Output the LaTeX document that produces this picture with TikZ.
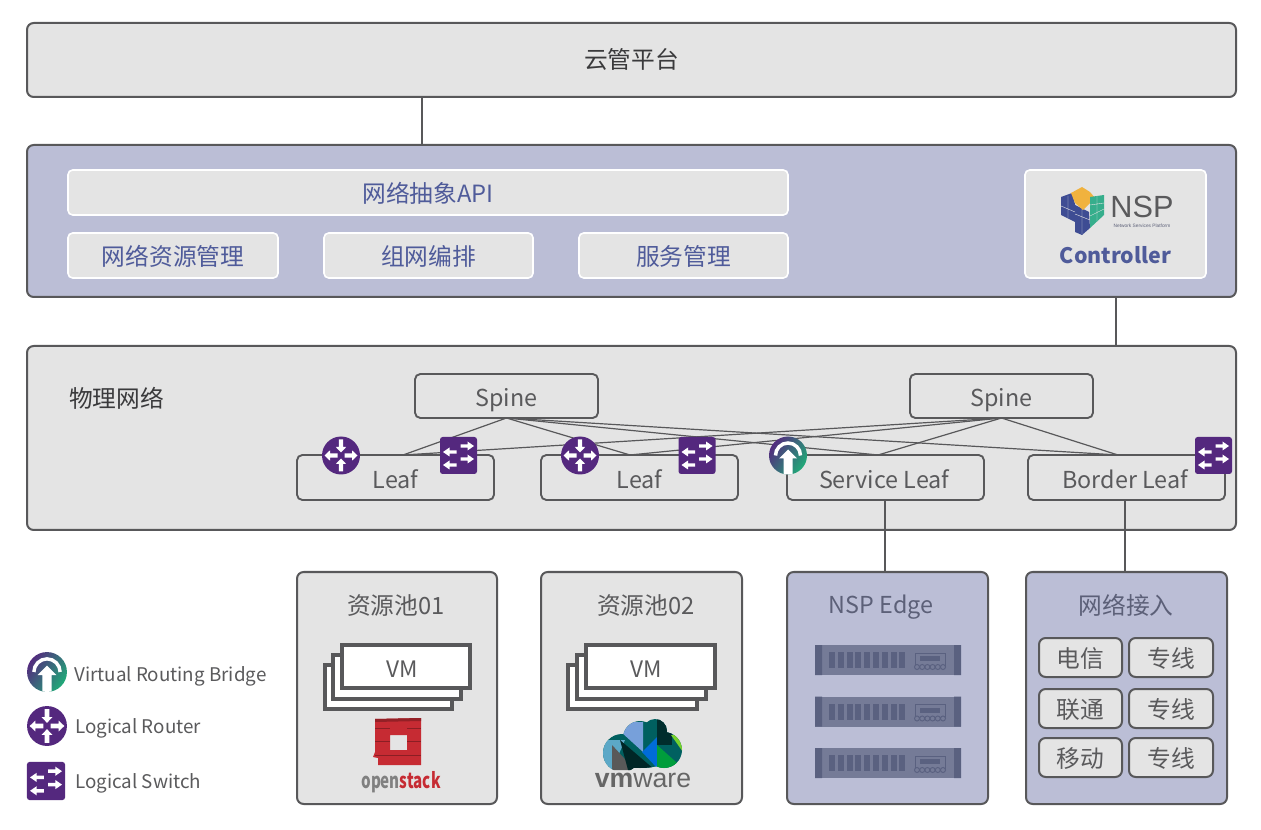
\documentclass[tikz,border=0pt]{standalone}
\usepackage{fontspec}
\setmainfont{Noto Sans CJK SC}
\newfontfamily\logofont{Liberation Sans}
\usetikzlibrary{calc}
\definecolor{panelgrey}{HTML}{E4E4E4}
\definecolor{panelblue}{HTML}{BBBED6}
\definecolor{edgegrey}{HTML}{58585A}
\definecolor{txtdark}{HTML}{3A3A3C}
\definecolor{txtgrey}{HTML}{5A5A5C}
\definecolor{txtblue}{HTML}{4F5B9A}
\definecolor{txtslate}{HTML}{5C6078}
\definecolor{iconpurple}{HTML}{54287E}
\definecolor{icongreen}{HTML}{1FAE78}
\definecolor{srvbody}{HTML}{757B97}
\definecolor{srvdark}{HTML}{5A6180}
\definecolor{brickred}{HTML}{C62B33}
\definecolor{cubeblue}{HTML}{3E4C93}
\definecolor{cubegold}{HTML}{F0B23E}
\definecolor{cubegreen}{HTML}{36AE8C}
\newcommand{\fs}[1]{\fontsize{#1}{#1}\selectfont}
% name x1 y1 x2 y2 style text
\newcommand{\pbox}[7]{\node[#6,inner sep=0pt,outer sep=0pt,minimum width={(#4-#2)*0.75pt},minimum height={(#5-#3)*0.75pt}] (#1) at ({(#2+#4)/2},{(#3+#5)/2}) {#7};}
\tikzset{
  panel/.style={draw=edgegrey,line width=1.5pt,rounded corners=5pt,fill=panelgrey},
  bluepanel/.style={draw=edgegrey,line width=1.5pt,rounded corners=5pt,fill=panelblue},
  whitebox/.style={draw=white,line width=1.2pt,rounded corners=3.5pt,fill=panelgrey,text=txtblue,font=\fs{17.8},text height=17pt,text depth=2pt},
  netbox/.style={draw=edgegrey,line width=1.4pt,rounded corners=4pt,fill=panelgrey,text=txtgrey,font=\fs{17.5},text height=19.8pt,text depth=4pt},
  chipbox/.style={draw=edgegrey,line width=1.5pt,rounded corners=5pt,fill=panelgrey,text=txtgrey,font=\fs{17.8},text height=17pt,text depth=2pt},
  vmbox/.style={draw=edgegrey,line width=2.4pt,fill=white},
  conn/.style={draw=edgegrey,line width=1.2pt},
  link/.style={draw=edgegrey,line width=0.9pt},
  lbl/.style={inner sep=0pt},
  router/.pic={
    \fill[iconpurple] (0,0) circle (19);
    \foreach \r in {0,180}{\fill[white,rotate=\r] (-2.2,-16)--(2.2,-16)--(2.2,-8.5)--(5.2,-8.5)--(0,-3)--(-5.2,-8.5)--(-2.2,-8.5)--cycle;}
    \foreach \r in {90,270}{\fill[white,rotate=\r] (-2.2,-3.5)--(2.2,-3.5)--(2.2,-11)--(5.2,-11)--(0,-16.5)--(-5.2,-11)--(-2.2,-11)--cycle;}
  },
  lswitch/.pic={
    \fill[iconpurple,rounded corners=2pt] (-18.5,-18.5) rectangle (18.5,18.5);
    \foreach \y in {-9.5,3.5}{\fill[white] (2,\y-1.7)--(9,\y-1.7)--(9,\y-4.5)--(15.5,\y)--(9,\y+4.5)--(9,\y+1.7)--(2,\y+1.7)--cycle;}
    \foreach \y in {-3.5,9.5}{\fill[white] (-2,\y-1.7)--(-9,\y-1.7)--(-9,\y-4.5)--(-15.5,\y)--(-9,\y+4.5)--(-9,\y+1.7)--(-2,\y+1.7)--cycle;}
  },
  vrb/.pic={
    \begin{scope}
      \clip (0,0) circle (19);
      \shade[left color=iconpurple,right color=icongreen,shading angle=55] (-20,-20) rectangle (20,20);
      \fill[white] (-4.5,20)--(4.5,20)--(4.5,3)--(9,3)--(0,-6)--(-9,3)--(-4.5,3)--cycle;
    \end{scope}
    \draw[white,line width=2.6pt] (-12.5,0) arc[start angle=180,end angle=360,radius=12.5];
  },
  server/.pic={
    \fill[srvbody] (0,0) rectangle (146,30);
    \fill[srvdark] (0,0) rectangle (7,30) (139,0) rectangle (146,30);
    \foreach \i in {0,...,8}{\fill[srvdark] ({14+\i*8.8},7) rectangle ({20+\i*8.8},23);}
    \draw[srvdark,line width=0.7pt] (100,8) rectangle (130,21);
    \fill[srvdark] (105,11) rectangle (125,16);
    \foreach \i in {0,...,5}{\draw[srvdark,line width=0.7pt,fill=srvbody] ({102+\i*5.2},22) circle (2.5);}
  },
}
\begin{document}
\begin{tikzpicture}[x=0.75pt,y=-0.75pt]
\useasboundingbox (0,0) rectangle (1261,830);
\fill[white] (0,0) rectangle (1261,830);
% vertical connector x positions
\coordinate (xa) at (422,0);
\coordinate (xb) at (1116,0);
\coordinate (xc) at (885,0);
\coordinate (xd) at (1125,0);
% main panels
\pbox{cloud}{27}{23}{1236}{97}{panel,text=txtdark,font=\fs{17.8},text depth=3pt}{云管平台}
\pbox{ctl}{27}{145}{1236}{297}{bluepanel}{}
\pbox{phys}{27}{346}{1236}{530}{panel}{}
\draw[conn] (xa |- cloud.south) -- (xa |- ctl.north);
\draw[conn] (xb |- ctl.south) -- (xb |- phys.north);
% controller content
\pbox{api}{68}{170}{788}{215}{whitebox}{网络抽象API}
\pbox{res}{68}{233}{278}{278}{whitebox}{网络资源管理}
\pbox{org}{324}{233}{533}{278}{whitebox}{组网编排}
\pbox{svc}{579}{233}{788}{278}{whitebox}{服务管理}
\pbox{nspbox}{1025}{170}{1206}{278}{whitebox}{}
% NSP logo
\fill[cubeblue] (1061,197)--(1072,193)--(1075,204)--(1075,222)--(1061,215)--cycle;
\fill[cubeblue] (1075,205)--(1089,212)--(1090,228)--(1082,235)--(1075,232)--cycle;
\fill[cubegold] (1071,193)--(1082,187)--(1090,192)--(1095,198)--(1083,210)--(1075,203)--cycle;
\fill[cubegreen] (1090,197)--(1104,195)--(1104,215)--(1090,228)--cycle;
\draw[panelgrey,line width=0.3pt] (1061,206)--(1075,212) (1075,214)--(1090,220) (1090,205)--(1104,203) (1090,216)--(1104,209) (1097,196)--(1097,221) (1082,209)--(1082,234) (1068,196)--(1068,218);
\node[lbl,text=txtgrey,font=\logofont\fs{23}] (nsplogo) at (1142,207) {NSP};
\node[lbl,text=txtslate,font=\logofont\fs{3.6}] (nspsub) at (1142,226) {Network Services Platform};
\node[lbl,text=txtblue,font=\fs{16}\bfseries] (ctltxt) at (1115.5,255) {Controller};
% physical network
\node[lbl,text=txtdark,font=\fs{17.8}] (phystxt) at (116.5,398) {物理网络};
\pbox{spine1}{415}{374}{598}{418}{netbox}{Spine}
\pbox{spine2}{910}{374}{1093}{418}{netbox}{Spine}
\pbox{leaf1}{297}{455}{494}{500}{netbox}{Leaf}
\pbox{leaf2}{541}{455}{738}{500}{netbox}{Leaf}
\pbox{leaf3}{787}{455}{984}{500}{netbox}{\hspace*{-2pt}Service Leaf}
\pbox{leaf4}{1028}{455}{1225}{500}{netbox}{\hspace*{-2pt}Border Leaf}
\coordinate (t1) at (403,455);
\coordinate (t2) at (630,455);
\coordinate (t3) at (878,455);
\coordinate (t4) at (1118,455);
\foreach \s in {spine1,spine2}{\foreach \t in {t1,t2,t3,t4}{\draw[link] (\s.south) -- (\t);}}
\pic (r1) at (341,455.5) {router};
\pic (s1) at (458.5,455.5) {lswitch};
\pic (r2) at (580,455.5) {router};
\pic (s2) at (697,455.5) {lswitch};
\pic (v1) at (788,455.5) {vrb};
\pic (s3) at (1213.5,455.5) {lswitch};
% lower boxes
\pbox{pool1}{297}{572}{497}{804}{panel}{}
\pbox{pool2}{541}{572}{742}{804}{panel}{}
\pbox{edge}{787}{572}{988}{804}{bluepanel}{}
\pbox{access}{1026}{572}{1227}{804}{bluepanel}{}
\draw[conn] (xc |- leaf3.south) -- (xc |- edge.north);
\draw[conn] (xd |- leaf4.south) -- (xd |- access.north);
\node[lbl,text=txtgrey,font=\fs{17.8}] (p1t) at (396,606) {资源池01};
\node[lbl,text=txtgrey,font=\fs{17.8}] (p2t) at (646,606) {资源池02};
\node[lbl,anchor=base,text=txtslate,font=\fs{17.5}] (et) at (881,613) {NSP Edge};
\node[lbl,text=txtslate,font=\fs{17.8}] (at) at (1126,605) {网络接入};
% VM stacks
\pbox{vm1c}{325}{665}{452}{709}{vmbox}{}
\pbox{vm1b}{333}{655}{461}{699}{vmbox}{}
\pbox{vm1a}{342}{645}{470}{688}{vmbox}{}
\pbox{vm2c}{568}{665}{697}{709}{vmbox}{}
\pbox{vm2b}{577}{655}{706}{699}{vmbox}{}
\pbox{vm2a}{586}{645}{715}{688}{vmbox}{}
\node[lbl,text=txtgrey,font=\fs{17}] (vm1t) at (402.5,669) {VM};
\node[lbl,text=txtgrey,font=\fs{17}] (vm2t) at (646.5,669) {VM};
% openstack logo
\fill[brickred,even odd rule] (375,719)--(421,718)--(421,765)--(378,765)--(378,758)--(373,757)--(375,752)--cycle (390,735) rectangle (407,750);
\fill[brickred!75!black] (375,719)--(421,718)--(421,721)--(375,722)--cycle;
\draw[brickred!70!black,line width=0.4pt] (375,728)--(390,728) (407,728)--(421,728) (375,741)--(390,741) (407,741)--(421,741) (375,755)--(421,755);
\node[lbl,font=\fs{16}\bfseries,xscale=0.71] (ostxt) at (401,782) {\textcolor{gray}{open}\textcolor{brickred}{stack}};
% vmware logo
\begin{scope}
\clip (622,753) circle (19) (640,738) circle (17) (664,750) circle (18) (655,731) circle (12) (640,758) ellipse [x radius=30,y radius=10];
\fill[teal!75!black] (600,715) rectangle (690,770);
\fill[cyan!50!blue!55!white] (610,722)--(643,722)--(643,752)--cycle;
\fill[cyan!55!gray] (600,740)--(625,740)--(612,770)--(600,770)--cycle;
\fill[gray!70!black] (612,745)--(635,770)--(612,770)--cycle;
\fill[black!70!teal] (620,740)--(655,770)--(628,770)--cycle;
\fill[blue!50!cyan!85!black] (642,752)--(657,737)--(657,768)--cycle;
\fill[black!65!teal] (657,715)--(672,715)--(672,745)--(657,745)--cycle;
\fill[green!45!teal!85!black] (657,745)--(685,770)--(657,770)--cycle;
\fill[green!55!yellow!65!gray] (671,735)--(690,735)--(690,762)--cycle;
\end{scope}
\node[lbl,font=\logofont\fs{20},text=gray!80!black] (vmtxt) at (643,780) {\textbf{vm}ware};
% servers
\pic (srv1) at (815,645) {server};
\pic (srv2) at (815,696.5) {server};
\pic (srv3) at (815,748) {server};
% access chips
\pbox{a1}{1039}{638}{1122}{677}{chipbox}{电信}
\pbox{a2}{1129}{638}{1213}{677}{chipbox}{专线}
\pbox{b1}{1039}{689}{1122}{728}{chipbox}{联通}
\pbox{b2}{1129}{689}{1213}{728}{chipbox}{专线}
\pbox{c1}{1039}{738}{1122}{777}{chipbox}{移动}
\pbox{c2}{1129}{738}{1213}{777}{chipbox}{专线}
% legend
\pic[scale=1.05] (lv) at (47,672) {vrb};
\pic[scale=1.05] (lr) at (47,726) {router};
\pic[scale=1.03] (ls) at (46,781) {lswitch};
\node[lbl,anchor=base west,text=txtgrey,font=\fs{14.1}] (lvt) at (74,681) {Virtual Routing Bridge};
\node[lbl,anchor=base west,text=txtgrey,font=\fs{14.1}] (lrt) at (75,733) {Logical Router};
\node[lbl,anchor=base west,text=txtgrey,font=\fs{14.1}] (lst) at (75,788) {Logical Switch};
\end{tikzpicture}
\end{document}
